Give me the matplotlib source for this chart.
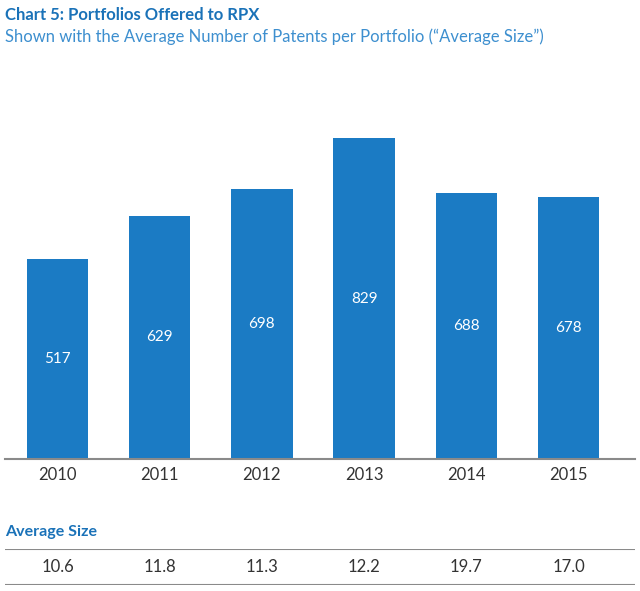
import matplotlib
matplotlib.use("Agg")
import matplotlib.pyplot as plt

years = ["2010", "2011", "2012", "2013", "2014", "2015"]
portfolios = [517, 629, 698, 829, 688, 678]
avg_size = ["10.6", "11.8", "11.3", "12.2", "19.7", "17.0"]

BLUE = "#1b7bc4"
TITLE = "#1a72b8"
SUB = "#3d8fcf"
GRAY = "#8a8a8a"
TXT = "#333333"

plt.rcParams['font.family'] = ['Lato', 'DejaVu Sans']

W, H = 640, 591
fig = plt.figure(figsize=(W/100, H/100), dpi=100)

base_y = 459
ymax = 900
px_per = 0.387
top_y = base_y - ymax*px_per
left, right = 5, 635
ax = fig.add_axes([left/W, (H-base_y)/H, (right-left)/W, (base_y-top_y)/H])
x = list(range(len(years)))
ax.bar(x, portfolios, width=0.6, color=BLUE)
ax.set_xlim((left-57.5)/102.2, (right-57.5)/102.2)
ax.set_ylim(0, ymax)
for i, v in enumerate(portfolios):
    ax.text(i, v/2, str(v), ha='center', va='center', color='white', fontsize=11)
for s in ['top', 'right', 'left']:
    ax.spines[s].set_visible(False)
ax.spines['bottom'].set_color(GRAY)
ax.spines['bottom'].set_linewidth(1.5)
ax.set_yticks([])
ax.set_xticks(x)
ax.set_xticklabels(years, fontsize=12, color=TXT)
ax.tick_params(axis='x', length=0, pad=6)

fig.text(5/W, 1-15/H, "Chart 5: Portfolios Offered to RPX", ha='left', va='center',
         fontsize=12, fontweight='bold', color=TITLE)
fig.text(5/W, 1-37/H, "Shown with the Average Number of Patents per Portfolio (\u201cAverage Size\u201d)",
         ha='left', va='center', fontsize=12, color=SUB)

fig.text(5/W, 1-532/H, "Average Size", ha='left', va='center', fontsize=11.5,
         fontweight='bold', color=TITLE)

tax = fig.add_axes([left/W, (H-585)/H, (right-left)/W, (585-549)/H])
tax.set_xlim(ax.get_xlim())
tax.set_ylim(0, 1)
tax.axis('off')
tax.axhline(1, color=GRAY, lw=1.5)
tax.axhline(0, color=GRAY, lw=1.5)
for i, s in enumerate(avg_size):
    tax.text(i, 0.5, s, ha='center', va='center', fontsize=12, color=TXT)

fig.savefig("out.png", dpi=100)
